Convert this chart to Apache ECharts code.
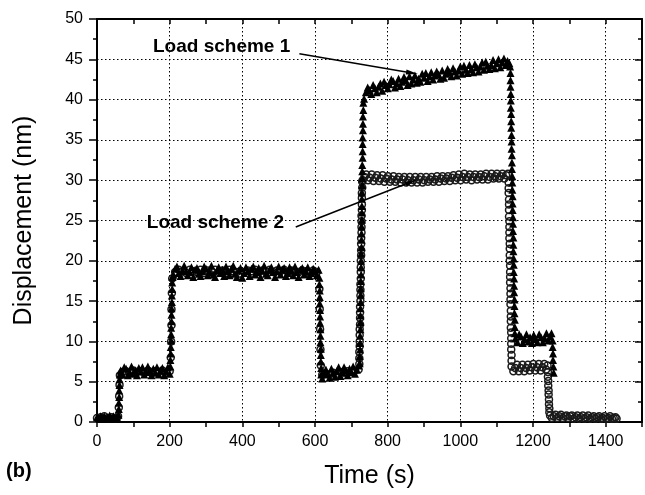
<!DOCTYPE html>
<html>
<head>
<meta charset="utf-8">
<script src="https://cdn.jsdelivr.net/npm/echarts@6/dist/echarts.min.js"></script>
<style>
  html, body { margin: 0; padding: 0; background: #fff; }
  #chart { width: 645px; height: 495px; }
</style>
</head>
<body>
<div id="chart"></div>
<script>
// Axis ticks
const timeTicks = [0, 200, 400, 600, 800, 1000, 1200, 1400];
const timeMax = 1500;
const dispTicks = [0, 5, 10, 15, 20, 25, 30, 35, 40, 45, 50];

// Load scheme 1: [time (s), displacement (nm)]
const scheme1 = [
  [0,0.6],[5,0.5],[10,0.7],[15,0.5],[20,0.7],[25,0.5],[30,0.6],[35,0.8],[40,0.5],[45,0.7],[50,0.5],[55,0.6],
  [59,0.9],[60,1.6],[60,2.4],[61,3.1],[61,3.9],[62,4.6],[62,5.3],[63,5.9],
  [65,6.4],[70,5.9],[75,6.8],[80,6.6],[85,5.8],[90,6.2],[95,6.9],[100,6.0],[105,6.4],[110,5.8],[115,6.7],[120,6.3],
  [125,6.8],[130,5.9],[135,6.2],[140,6.9],[145,6.4],[150,5.8],[155,6.6],[160,6.1],[165,6.8],[170,5.9],[175,6.4],
  [180,6.7],[185,5.8],[190,6.3],[195,6.8],[200,6.0],
  [202,6.9],[202,7.7],[203,8.5],[203,9.3],[204,10.1],[204,10.9],[204,11.7],[205,12.5],[205,13.3],[205,14.1],
  [206,14.9],[206,15.7],[207,16.5],[207,17.3],[208,18.0],
  [210,18.3],[215,19.0],[220,19.3],[225,18.5],[230,18.1],[235,18.8],[240,19.4],[245,18.7],[250,18.2],[255,18.6],
  [260,19.2],[265,18.0],[270,18.9],[275,19.1],[280,18.4],[285,18.1],[290,18.7],[295,19.3],[300,19.0],[305,18.2],
  [310,18.6],[315,19.4],[320,18.3],[325,18.0],[330,18.8],[335,19.2],[340,18.5],[345,18.9],[350,18.1],[355,19.3],
  [360,18.7],[365,18.2],[370,19.0],[375,19.4],[380,18.4],[385,18.0],[390,18.8],[395,19.1],[400,17.9],[405,18.5],
  [410,19.2],[415,18.7],[420,18.1],[425,19.0],[430,19.3],[435,18.3],[440,18.6],[445,19.1],[450,18.0],[455,18.8],
  [460,19.4],[465,18.4],[470,18.2],[475,18.9],[480,19.2],[485,18.6],[490,18.0],[495,18.7],[500,19.3],[505,18.3],
  [510,18.9],[515,19.1],[520,18.1],[525,18.5],[530,19.2],[535,18.8],[540,18.2],[545,19.3],[550,18.6],[555,18.0],
  [560,18.9],[565,19.1],[570,18.3],[575,18.7],[580,19.2],[585,18.1],[590,18.5],[595,19.0],[600,18.7],[605,18.2],[610,18.9],
  [612,17.9],[612,17.1],[613,16.3],[613,15.5],[613,14.7],[614,13.9],[614,13.1],[614,12.3],[615,11.5],[615,10.7],
  [615,9.9],[616,9.1],[616,8.3],[616,7.5],[617,6.7],[617,5.9],
  [620,5.4],[625,6.0],[630,6.5],[635,5.9],[640,5.5],[645,6.6],[650,6.1],[655,5.6],[660,6.3],[665,6.8],[670,5.7],
  [675,6.2],[680,6.8],[685,6.4],[690,5.8],[695,6.6],[700,6.2],[705,6.9],[710,6.0],[715,6.5],[720,7.0],
  [723,7.3],[723,8.2],[724,9.0],[724,9.8],[724,10.7],[725,11.5],[725,12.4],[725,13.2],[725,14.1],[726,14.9],
  [726,15.8],[726,16.6],[726,17.5],[727,18.3],[727,19.2],[727,20.0],[727,20.9],[728,21.7],[728,22.6],[728,23.4],
  [728,24.3],[729,25.1],[729,26.0],[729,26.8],[729,27.7],[729,28.5],[730,29.4],[730,30.2],[730,31.1],[730,31.9],
  [731,32.8],[731,33.6],[731,34.5],[731,35.3],[732,36.2],[732,37.0],[732,37.9],[733,38.7],[733,39.6],
  [735,40.1],[740,40.9],[745,41.5],[750,41.2],[755,40.7],[760,41.8],[765,41.4],[770,40.9],[775,41.6],[780,42.0],
  [785,41.1],[790,42.2],[795,41.8],[800,41.4],[805,41.9],[810,42.5],[815,42.3],[820,41.5],[825,42.0],[830,42.6],
  [835,41.7],[840,42.2],[845,42.8],[850,42.4],[855,41.8],[860,42.9],[865,42.0],[870,42.5],[875,43.0],[880,42.1],
  [885,42.6],[890,42.2],[895,43.2],[900,42.7],[905,43.3],[910,42.3],[915,42.9],[920,43.4],[925,42.5],[930,43.0],
  [935,43.5],[940,43.1],[945,42.6],[950,43.6],[955,42.7],[960,43.2],[965,43.8],[970,43.4],[975,42.9],[980,43.9],
  [985,43.5],[990,43.0],[995,43.6],[1000,44.1],[1005,43.2],[1010,44.2],[1015,43.7],[1020,43.3],[1025,44.3],[1030,43.8],
  [1035,43.4],[1040,44.4],[1045,44.0],[1050,43.5],[1055,44.1],[1060,44.6],[1065,43.7],[1070,44.7],[1075,44.2],[1080,43.8],
  [1085,44.3],[1090,44.9],[1095,43.9],[1100,44.5],[1105,45.0],[1110,44.0],[1115,44.6],[1120,45.1],[1125,44.3],[1130,44.8],[1135,44.5],
  [1137,44.1],[1138,43.3],[1138,42.4],[1138,41.6],[1139,40.7],[1139,39.9],[1139,39.0],[1140,38.2],[1140,37.3],[1140,36.5],
  [1141,35.6],[1141,34.8],[1141,33.9],[1142,33.1],[1142,32.2],[1142,31.4],[1143,30.5],[1143,29.7],[1143,28.8],[1144,28.0],
  [1144,27.1],[1144,26.3],[1145,25.4],[1145,24.6],[1145,23.7],[1146,22.9],[1146,22.0],[1146,21.2],[1147,20.3],[1147,19.5],
  [1147,18.6],[1148,17.8],[1148,16.9],[1148,16.1],[1149,15.2],[1149,14.4],[1149,13.5],[1150,12.7],[1150,11.8],[1150,11.0],
  [1152,10.4],[1157,9.9],[1162,10.9],[1167,10.6],[1172,9.8],[1177,10.3],[1182,10.9],[1187,10.0],[1192,10.5],[1197,9.8],
  [1202,10.8],[1207,10.3],[1212,9.9],[1217,10.9],[1222,10.5],[1227,9.9],[1232,10.4],[1237,11.0],[1242,10.1],[1247,10.6],[1251,11.0],
  [1254,10.1],[1254,9.3],[1255,8.5],[1255,7.7],[1256,6.9],[1257,6.1]
];

// Load scheme 2: [time (s), displacement (nm)]
const scheme2 = [
  [0,0.5],[10,0.6],[20,0.7],[30,0.5],[40,0.6],[50,0.5],[58,0.7],
  [60,1.8],[61,3.2],[62,4.6],[63,5.8],
  [70,6.2],[80,6.3],[90,6.1],[100,6.4],[110,6.2],[120,6.3],[130,6.1],[140,6.4],[150,6.2],[160,6.3],[170,6.2],
  [180,6.4],[190,6.1],[200,6.3],
  [203,8.0],[204,10.0],[205,12.0],[205,14.0],[206,16.0],[207,17.8],
  [215,18.6],[225,18.9],[235,18.7],[245,18.5],[255,18.9],[265,18.7],[275,18.6],[285,18.9],[295,18.5],[305,18.8],
  [315,18.7],[325,18.9],[335,18.6],[345,18.8],[355,18.5],[365,18.9],[375,18.7],[385,18.6],[395,18.4],[405,18.6],
  [415,18.8],[425,18.7],[435,18.9],[445,18.6],[455,18.8],[465,18.7],[475,18.9],[485,18.6],[495,18.8],[505,18.7],
  [515,18.9],[525,18.6],[535,18.8],[545,18.7],[555,18.6],[565,18.8],[575,18.7],[585,18.5],[595,18.8],[605,18.6],
  [612,16.5],[613,14.0],[614,11.5],[615,9.0],[616,7.0],
  [620,5.9],[630,6.0],[640,5.9],[650,6.1],[660,6.0],[670,6.2],[680,6.1],[690,6.3],[700,6.2],[710,6.4],[720,6.5],
  [722,7.2],[722,7.9],[722,8.7],[723,9.4],[723,10.0],[723,10.8],[723,11.5],[724,12.1],[724,12.9],[724,13.6],
  [724,14.3],[725,15.0],[725,15.7],[725,16.4],[725,17.1],[726,17.8],[726,18.6],[726,19.2],[726,20.0],[727,20.7],
  [727,21.3],[727,22.1],[727,22.8],[728,23.5],[728,24.2],[728,24.9],[728,25.6],[729,26.3],[729,27.0],[729,27.8],
  [729,28.4],[730,29.1],[730,29.8],
  [731,30.0],[736,30.4],[741,30.7],[746,30.0],[751,30.3],[756,30.7],[761,29.9],[766,30.3],[771,30.6],[776,29.9],
  [781,30.2],[786,30.6],[791,29.8],[796,30.2],[801,30.5],[806,29.8],[811,30.1],[816,30.5],[821,29.8],[826,30.1],
  [831,30.4],[836,29.7],[841,30.1],[846,30.4],[851,29.7],[856,30.0],[861,30.4],[866,29.7],[871,30.0],[876,30.4],
  [881,29.7],[886,30.1],[891,30.4],[896,29.7],[901,30.0],[906,30.4],[911,29.8],[916,30.1],[921,30.4],[926,29.8],
  [931,30.1],[936,30.5],[941,29.8],[946,30.2],[951,30.5],[956,29.9],[961,30.2],[966,30.5],[971,29.9],[976,30.3],
  [981,30.6],[986,30.0],[991,30.3],[996,30.7],[1001,30.0],[1006,30.4],[1011,30.8],[1016,30.1],[1021,30.4],[1026,30.7],
  [1031,30.0],[1036,30.4],[1041,30.7],[1046,30.1],[1051,30.4],[1056,30.7],[1061,30.1],[1066,30.5],[1071,30.8],[1076,30.1],
  [1081,30.4],[1086,30.8],[1091,30.2],[1096,30.5],[1101,30.8],[1106,30.2],[1111,30.5],[1116,30.8],[1121,30.2],[1126,30.6],[1131,30.8],
  [1133,29.7],[1133,29.0],[1133,28.4],[1134,27.6],[1134,27.0],[1134,26.3],[1134,25.5],[1135,24.9],[1135,24.2],[1135,23.5],
  [1135,22.8],[1136,22.1],[1136,21.5],[1136,20.7],[1136,20.0],[1137,19.4],[1137,18.6],[1137,18.0],[1137,17.3],[1138,16.6],
  [1138,15.9],[1138,15.2],[1138,14.6],[1139,13.8],[1139,13.1],[1139,12.5],[1139,11.7],[1140,11.1],[1140,10.4],[1140,9.7],
  [1140,9.0],[1141,8.3],[1141,7.6],
  [1141,6.9],[1146,6.3],[1151,6.7],[1156,7.1],[1161,6.3],[1166,6.7],[1171,7.1],[1176,6.3],[1181,6.7],[1186,7.1],
  [1191,6.4],[1196,6.8],[1201,7.2],[1206,6.4],[1211,6.8],[1216,7.2],[1221,6.4],[1226,6.8],[1231,7.2],[1236,6.5],[1240,7.0],
  [1241,6.2],[1241,5.6],[1242,5.1],[1242,4.5],[1243,3.9],[1243,3.4],[1244,2.8],[1244,2.2],[1245,1.7],[1245,1.2],
  [1247,0.8],[1252,0.5],[1257,0.7],[1262,0.9],[1267,0.5],[1272,0.7],[1277,0.9],[1282,0.5],[1287,0.7],[1292,0.8],
  [1297,0.5],[1302,0.7],[1307,0.8],[1312,0.4],[1317,0.6],[1322,0.8],[1327,0.4],[1332,0.6],[1337,0.8],[1342,0.4],
  [1347,0.6],[1352,0.8],[1357,0.4],[1362,0.6],[1367,0.7],[1372,0.4],[1377,0.6],[1382,0.7],[1387,0.4],[1392,0.5],
  [1397,0.7],[1402,0.4],[1407,0.5],[1412,0.7],[1417,0.4],[1422,0.5],[1427,0.6],[1430,0.4]
];

// Callouts: text anchor and arrow ends, in (time, displacement) units
const calloutNames = ['Load scheme 1', 'Load scheme 2'];
const calloutAt = [[343, 46.5], [326, 24.7]];
const arrowFrom = [[557, 45.7], [547, 24.2]];
const arrowTo = [[867, 43.3], [865, 29.8]];

const FONT = '"Liberation Sans", Arial, Helvetica, sans-serif';
const black = '#000';
const dotted = { color: black, width: 1, type: [1.5, 2.5] };

const chart = echarts.init(document.getElementById('chart'), null, { renderer: 'canvas' });

const timeStep = timeTicks[1] - timeTicks[0];
const dispStep = dispTicks[1] - dispTicks[0];

chart.setOption({
  animation: false,
  backgroundColor: '#fff',
  grid: { left: 97, right: 1, top: 19, bottom: 73, containLabel: false },
  xAxis: [
    {
      // bottom axis: labels and short ticks every 100 s
      type: 'value', position: 'bottom', min: timeTicks[0], max: timeMax, interval: timeStep / 2,
      name: 'Time (s)', nameLocation: 'middle', nameGap: 42,
      nameTextStyle: { fontFamily: FONT, fontSize: 25, color: black },
      axisLine: { onZero: false, lineStyle: { color: black, width: 2 } },
      axisTick: { show: true, inside: false, length: 5, lineStyle: { color: black, width: 1.5 } },
      axisLabel: {
        margin: 12, fontFamily: FONT, fontSize: 16, color: black,
        formatter: v => (timeTicks.indexOf(v) >= 0 ? String(v) : '')
      },
      splitLine: { show: false }
    },
    {
      // vertical grid lines at the labelled times
      type: 'value', position: 'bottom', min: timeTicks[0], max: timeMax, interval: timeStep,
      axisLine: { show: false }, axisTick: { show: false }, axisLabel: { show: false },
      splitLine: { show: true, lineStyle: dotted }
    },
    {
      // top frame
      type: 'value', position: 'top', min: timeTicks[0], max: timeMax, interval: timeStep / 2,
      axisLine: { onZero: false, lineStyle: { color: black, width: 2 } },
      axisTick: { show: true, inside: true, length: 5, lineStyle: { color: black, width: 1.5 } },
      axisLabel: { show: false }, splitLine: { show: false }
    }
  ],
  yAxis: [
    {
      type: 'value', position: 'left', min: dispTicks[0], max: dispTicks[dispTicks.length - 1], interval: dispStep,
      name: 'Displacement (nm)', nameLocation: 'middle', nameGap: 60,
      nameTextStyle: { fontFamily: FONT, fontSize: 25, color: black },
      axisLine: { onZero: false, lineStyle: { color: black, width: 2 } },
      axisTick: { show: true, inside: false, length: 8, lineStyle: { color: black, width: 1.5 } },
      minorTick: { show: true, splitNumber: 2, length: 4, lineStyle: { color: black, width: 1.5 } },
      axisLabel: { margin: 14, fontFamily: FONT, fontSize: 16, color: black },
      splitLine: { show: true, lineStyle: dotted }
    },
    {
      type: 'value', position: 'right', min: dispTicks[0], max: dispTicks[dispTicks.length - 1], interval: dispStep,
      axisLine: { onZero: false, lineStyle: { color: black, width: 2 } },
      axisTick: { show: true, inside: true, length: 7, lineStyle: { color: black, width: 1.5 } },
      minorTick: { show: true, splitNumber: 2, length: 4, lineStyle: { color: black, width: 1.5 } },
      axisLabel: { show: false }, splitLine: { show: false }
    }
  ],
  graphic: [
    { type: 'text', left: 6, top: 461, style: { text: '(b)', font: 'bold 20px ' + FONT, fill: black } }
  ],
  series: [
    {
      name: 'Load scheme 2', type: 'scatter', xAxisIndex: 0, yAxisIndex: 0,
      symbol: 'circle', symbolSize: 7,
      itemStyle: { color: 'rgba(0,0,0,0)', borderColor: '#1a1a1a', borderWidth: 1.5, opacity: 1 },
      data: scheme2, z: 2
    },
    {
      name: 'Load scheme 1', type: 'scatter', xAxisIndex: 0, yAxisIndex: 0,
      symbol: 'triangle', symbolSize: 8,
      itemStyle: { color: black, opacity: 1 },
      data: scheme1, z: 3,
      markLine: {
        silent: true, animation: false,
        label: { show: false },
        lineStyle: { color: black, width: 1.5, type: 'solid' },
        data: arrowFrom.map((p, i) => [
          { coord: p, symbol: 'none' },
          { coord: arrowTo[i], symbol: 'triangle', symbolSize: [5, 12] }
        ])
      },
      markPoint: {
        silent: true, animation: false,
        symbol: 'circle', symbolSize: 1,
        itemStyle: { color: 'rgba(0,0,0,0)' },
        label: {
          show: true, position: 'inside', formatter: '{b}',
          fontFamily: FONT, fontSize: 19, fontWeight: 'bold', color: black
        },
        data: calloutNames.map((n, i) => ({ name: n, coord: calloutAt[i] }))
      }
    }
  ]
});
</script>
</body>
</html>
